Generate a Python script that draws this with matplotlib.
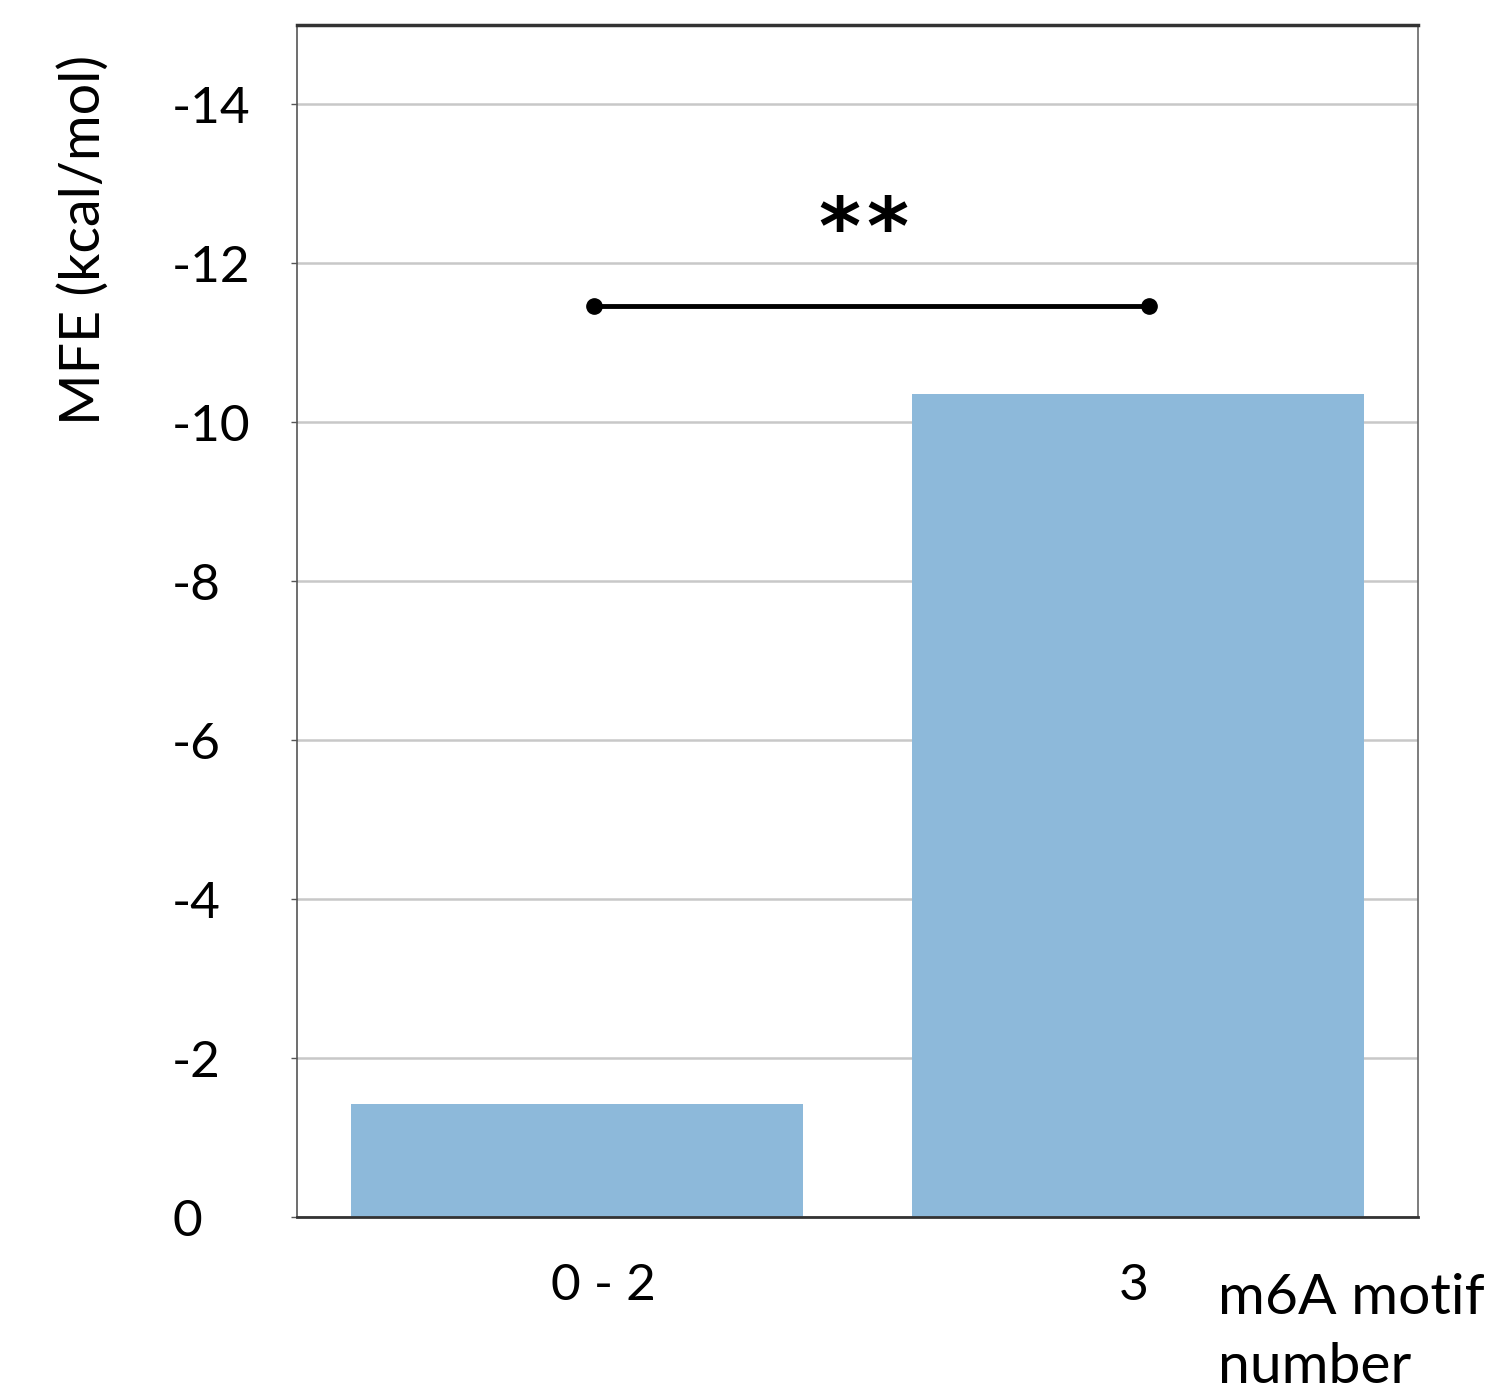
import matplotlib
matplotlib.use("Agg")
import matplotlib.pyplot as plt
from matplotlib.transforms import ScaledTranslation

categories = ["0 - 2", "3"]
mfe_values = [-1.42, -10.36]
yticks = [0, -2, -4, -6, -8, -10, -12, -14]
ytick_labels = ["0", "-2", "-4", "-6", "-8", "-10", "-12", "-14"]
sig_pair = [0.03, 1.02]
sig_level = -11.46
sig_text = "**"

plt.rcParams['font.family'] = ['Lato', 'DejaVu Sans']

fig = plt.figure(figsize=(14.98, 13.98), dpi=100)
ax = fig.add_axes([297/1498, 1 - 1217/1398, (1418-297)/1498, (1217-25)/1398])

x = list(range(len(categories)))
ax.bar(x, mfe_values, width=0.806, color="#8DB9DA", zorder=2)
ax.set_xlim(-0.5, 1.5)
ax.set_ylim(0, -15)

ax.set_yticks(yticks)
ax.set_yticklabels(ytick_labels, fontsize=37)
for lab in ax.get_yticklabels():
    lab.set_horizontalalignment('left')
ax.tick_params(axis='y', length=4, width=1, color="#555555", pad=86)
ax.set_xticks(x)
ax.set_xticklabels(categories, fontsize=37)
ax.tick_params(axis='x', length=0, pad=33)
offsets = [26, -4]
for lab, dx in zip(ax.get_xticklabels(), offsets):
    lab.set_transform(lab.get_transform() + ScaledTranslation(dx/100, 0, fig.dpi_scale_trans))

ax.yaxis.grid(True, color="#c8c8c8", linewidth=1.8, zorder=0)
ax.set_axisbelow(True)

for side, c, lw in [("left", "#555555", 1.2), ("right", "#666666", 1.2),
                    ("top", "#333333", 2.5), ("bottom", "#333333", 2.0)]:
    ax.spines[side].set_color(c)
    ax.spines[side].set_linewidth(lw)

ax.plot(sig_pair, [sig_level, sig_level], color="black", linewidth=3.5,
        marker="o", markersize=11, zorder=3)
# significance stars, drawn one by one with a small gap
n = len(sig_text)
step_px = 48
xc = sum(sig_pair)/2 - 0.015
for i, ch in enumerate(sig_text):
    dx = (i - (n - 1)/2) * step_px / 100
    t = ax.text(xc, sig_level - 0.45, ch, ha="center", va="bottom",
                fontsize=58, fontweight="bold", family="DejaVu Sans")
    t.set_transform(ax.transData + ScaledTranslation(dx, 0, fig.dpi_scale_trans))

fig.text(84/1498, 1 - 240/1398, "MFE (kcal/mol)", rotation=90, ha="center",
         va="center", fontsize=40)
fig.text(1218/1498, 1 - 1333/1398, "m6A motif\nnumber", ha="left", va="center",
         fontsize=41, linespacing=1.45)

fig.savefig("out.png", dpi=100)
